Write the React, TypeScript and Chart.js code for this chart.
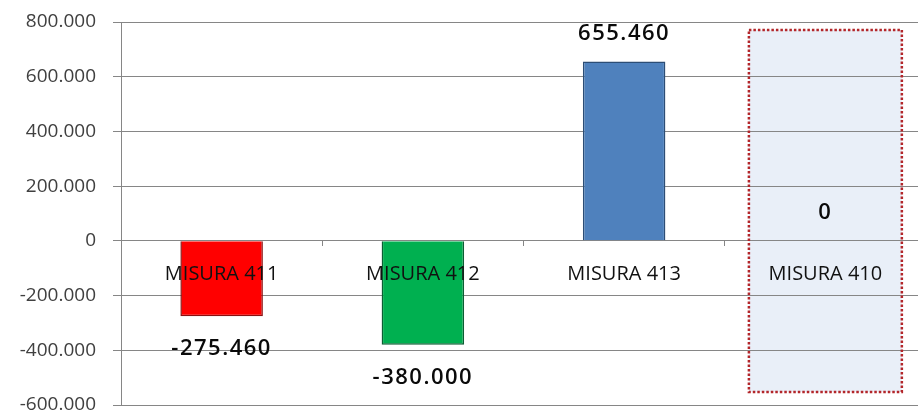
import React, { useEffect, useRef } from 'react';
import { Chart, registerables } from 'chart.js';

Chart.register(...registerables);

const categories = ['MISURA 411', 'MISURA 412', 'MISURA 413', 'MISURA 410'];
const values = [-275460, -380000, 655460, 0];
const barColors = ['#FF0000', '#00B050', '#4F81BD', 'rgba(0,0,0,0)'];
const barBorders = ['#8a1010', '#0b5e33', '#2c4d75', 'rgba(0,0,0,0)'];
const yMin = -600000;
const yMax = 800000;
const yStep = 200000;
const highlightIndex = 3;

function fmt(v: number): string {
  const s = Math.abs(v).toString().replace(/\B(?=(\d{3})+(?!\d))/g, '.');
  return (v < 0 ? '-' : '') + s;
}

const highlightPlugin = {
  id: 'highlightBox',
  _rect(chart: any) {
    const xs = chart.scales.x;
    const area = chart.chartArea;
    const cw = xs.width / categories.length;
    const cx = xs.getPixelForValue(highlightIndex);
    return { x0: cx - cw * 0.38, x1: cx + cw * 0.38, y0: area.top + 8, y1: area.bottom - 13 };
  },
  beforeDraw(chart: any) {
    const r = (highlightPlugin as any)._rect(chart);
    const ctx = chart.ctx;
    ctx.save();
    ctx.fillStyle = '#E9EFF8';
    ctx.fillRect(r.x0, r.y0, r.x1 - r.x0, r.y1 - r.y0);
    ctx.restore();
  },
  afterDraw(chart: any) {
    const r = (highlightPlugin as any)._rect(chart);
    const ctx = chart.ctx;
    ctx.save();
    ctx.strokeStyle = '#B3262A';
    ctx.lineWidth = 2.5;
    ctx.setLineDash([2.5, 2]);
    ctx.strokeRect(r.x0, r.y0, r.x1 - r.x0, r.y1 - r.y0);
    ctx.restore();
  },
};

const labelPlugin = {
  id: 'valueLabels',
  afterDatasetsDraw(chart: any) {
    const ctx = chart.ctx;
    const meta = chart.getDatasetMeta(0);
    ctx.save();
    ctx.font = '600 22px "Open Sans"';
    (ctx as any).letterSpacing = '1.5px';
    ctx.fillStyle = '#0a0a0a';
    ctx.textAlign = 'center';
    ctx.textBaseline = 'middle';
    meta.data.forEach((bar: any, i: number) => {
      const v = values[i];
      const y = v >= 0 ? bar.y - 28 : bar.y + 33;
      ctx.fillText(fmt(v), bar.x, y);
    });
    ctx.restore();
  },
};

export default function App() {
  const ref = useRef<HTMLCanvasElement | null>(null);
  useEffect(() => {
    if (!ref.current) return;
    const chart = new Chart(ref.current, {
      type: 'bar',
      data: {
        labels: categories,
        datasets: [
          {
            data: values,
            backgroundColor: barColors,
            borderColor: barBorders,
            borderWidth: 1.5,
            barPercentage: 0.41,
            categoryPercentage: 1,
          },
        ],
      },
      options: {
        animation: false,
        responsive: true,
        maintainAspectRatio: false,
        layout: { padding: { top: 22, bottom: 7, left: 0, right: 0 } },
        plugins: { legend: { display: false }, tooltip: { enabled: false } },
        scales: {
          x: {
            position: { y: 0 } as any,
            offset: true,
            grid: { display: true, drawOnChartArea: false, tickLength: 5, color: '#868686' },
            border: { display: true, color: '#868686' },
            ticks: {
              z: 1,
              color: '#111111',
              font: { family: 'Open Sans', size: 20 },
              padding: 16,
              maxRotation: 0,
              autoSkip: false,
            },
          },
          y: {
            min: yMin,
            max: yMax,
            ticks: {
              stepSize: yStep,
              color: '#404040',
              font: { family: 'Open Sans', size: 19 },
              padding: 17,
              callback: (v: any) => fmt(Number(v)),
            },
            grid: { color: '#868686', tickLength: 8, lineWidth: 1 },
            border: { display: true, color: '#868686' },
            afterFit: (s: any) => {
              s.width = 121;
              s.paddingTop = 0;
              s.paddingBottom = 0;
            },
          },
        },
      },
      plugins: [highlightPlugin, labelPlugin],
    });
    return () => chart.destroy();
  }, []);
  return (
    <div style={{ position: 'absolute', left: 0, top: 0, width: 918, height: 412, overflow: 'hidden', background: '#fff' }}>
      <div style={{ position: 'relative', width: 926, height: 412 }}>
        <canvas ref={ref} />
      </div>
    </div>
  );
}
